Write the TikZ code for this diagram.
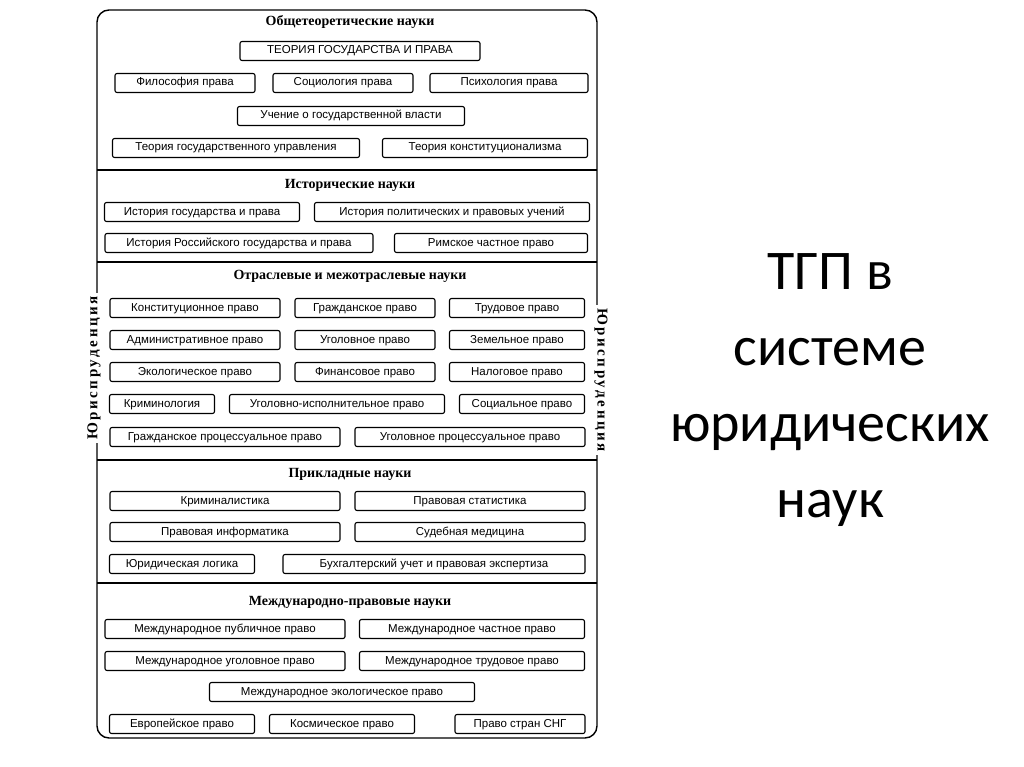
\documentclass[tikz,border=0pt]{standalone}
\usepackage{fontspec}
\setmainfont{Liberation Serif}
\newfontfamily\bxfont{Liberation Sans}
\newfontfamily\ttlfont{Carlito}
\begin{document}
\begin{tikzpicture}[x=1pt,y=-1pt,
 bx/.style={draw,line width=1.1pt,rounded corners=2pt,minimum height=19pt,inner sep=0pt,text height=8.5pt,text depth=2.5pt,font=\bxfont\fontsize{11.5}{12}\selectfont},
 hd/.style={font=\bfseries\fontsize{14}{15}\selectfont},
 sep/.style={line width=1.4pt}]
\useasboundingbox (0,0) rectangle (1024,767);
\draw[line width=1.4pt,rounded corners=12pt] (97,10) rectangle (597,738);
\foreach \yy in {170,262,460,583}{\draw[sep] (97,\yy) -- (597,\yy);}
\node[hd] (h1) at (350,22) {Общетеоретические науки};
\node[hd] (h2) at (350,185) {Исторические науки};
\node[hd] (h3) at (350,276) {Отраслевые и межотраслевые науки};
\node[hd] (h4) at (350,474) {Прикладные науки};
\node[hd] (h5) at (350,602) {Международно-правовые науки};
\node[rotate=90,fill=white,inner sep=3pt,font=\bfseries\fontsize{15}{16}\selectfont] (l) at (94,368) {Ю\,р\,и\,с\,п\,р\,у\,д\,е\,н\,ц\,и\,я};
\node[rotate=-90,fill=white,inner sep=3pt,font=\bfseries\fontsize{15}{16}\selectfont] (r) at (601,380) {Ю\,р\,и\,с\,п\,р\,у\,д\,е\,н\,ц\,и\,я};
\newcommand\B[5]{\node[bx,minimum width=#3 pt] (#1) at (#2,#4) {#5};}
\B{a1}{360}{240}{51}{ТЕОРИЯ ГОСУДАРСТВА И ПРАВА}
\B{a2}{185}{140}{83}{Философия права}
\B{a3}{343}{140}{83}{Социология права}
\B{a4}{509}{158}{83}{Психология права}
\B{a5}{351}{227}{116}{Учение о государственной власти}
\B{a6}{236}{247}{148}{Теория государственного управления}
\B{a7}{485}{205}{148}{Теория конституционализма}
\B{c1}{202}{195}{212}{История государства и права}
\B{c2}{452}{275}{212}{История политических и правовых учений}
\B{c3}{239}{268}{243}{История Российского государства и права}
\B{c4}{491}{193}{243}{Римское частное право}
\B{d1}{195}{170}{308}{Конституционное право}
\B{d2}{365}{140}{308}{Гражданское право}
\B{d3}{517}{135}{308}{Трудовое право}
\B{d4}{195}{170}{340}{Административное право}
\B{d5}{365}{140}{340}{Уголовное право}
\B{d6}{517}{135}{340}{Земельное право}
\B{d7}{195}{170}{372}{Экологическое право}
\B{d8}{365}{140}{372}{Финансовое право}
\B{d9}{517}{135}{372}{Налоговое право}
\B{d10}{162}{105}{404}{Криминология}
\B{d11}{337}{215}{404}{Уголовно-исполнительное право}
\B{d12}{522}{125}{404}{Социальное право}
\B{d13}{225}{230}{437}{Гражданское процессуальное право}
\B{d14}{470}{230}{437}{Уголовное процессуальное право}
\B{e1}{225}{230}{501}{Криминалистика}
\B{e2}{470}{230}{501}{Правовая статистика}
\B{e3}{225}{230}{532}{Правовая информатика}
\B{e4}{470}{230}{532}{Судебная медицина}
\B{e5}{182}{145}{564}{Юридическая логика}
\B{e6}{434}{302}{564}{Бухгалтерский учет и правовая экспертиза}
\B{f1}{225}{240}{629}{Международное публичное право}
\B{f2}{472}{225}{629}{Международное частное право}
\B{f3}{225}{240}{661}{Международное уголовное право}
\B{f4}{472}{225}{661}{Международное трудовое право}
\B{f5}{342}{265}{692}{Международное экологическое право}
\B{f6}{182}{145}{724}{Европейское право}
\B{f7}{342}{145}{724}{Космическое право}
\B{f8}{520}{130}{724}{Право стран СНГ}
\node[align=center,font=\ttlfont\fontsize{56}{76}\selectfont] (t) at (830,390) {ТГП в\\системе\\юридических\\наук};
\end{tikzpicture}
\end{document}
